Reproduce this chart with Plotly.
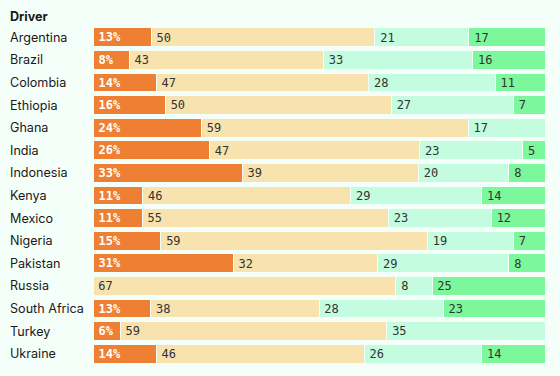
import plotly.graph_objects as go

countries = ["Argentina", "Brazil", "Colombia", "Ethiopia", "Ghana", "India", "Indonesia",
             "Kenya", "Mexico", "Nigeria", "Pakistan", "Russia", "South Africa", "Turkey", "Ukraine"]
seg1 = [13, 8, 14, 16, 24, 26, 33, 11, 11, 15, 31, 0, 13, 6, 14]
seg2 = [50, 43, 47, 50, 59, 47, 39, 46, 55, 59, 32, 67, 38, 59, 46]
seg3 = [21, 33, 28, 27, 17, 23, 20, 29, 23, 19, 29, 8, 28, 35, 26]
seg4 = [17, 16, 11, 7, 0, 5, 8, 14, 12, 7, 8, 25, 23, 0, 14]

series = [seg1, seg2, seg3, seg4]
colors = ["#EE7F33", "#F8E3AF", "#C3FCDE", "#7DF79C"]
bg = "#F5FFF9"
pad = "<span style='font-size:4px'> </span>"

fig = go.Figure()
for i, (vals, col) in enumerate(zip(series, colors)):
    if i == 0:
        txt = [f"{pad}{v}%" if v else "" for v in vals]
        font = dict(family="DejaVu Sans Mono", size=12, color="white", weight="bold")
    else:
        txt = [f"{pad}{v}" if v else "" for v in vals]
        font = dict(family="DejaVu Sans Mono", size=12.5, color="#333333")
    fig.add_trace(go.Bar(
        y=countries, x=vals, orientation="h",
        marker=dict(color=col, line=dict(color=bg, width=1)),
        text=txt, texttemplate="%{text}", textposition="inside",
        insidetextanchor="start", textfont=font, textangle=0,
        insidetextfont=font, constraintext="none",
        hoverinfo="skip", showlegend=False,
    ))

for c in countries:
    fig.add_annotation(x=-0.188, xref="paper", y=c, yref="y", text=c,
                       showarrow=False, xanchor="left", yanchor="middle",
                       font=dict(family="Inter", size=12.6, color="#1a1a1a"))
fig.add_annotation(x=-0.188, xref="paper", y=1.0, yref="paper", yshift=10, text="<b>Driver</b>",
                   showarrow=False, xanchor="left", yanchor="middle",
                   font=dict(family="Inter", size=12.6, color="#1a1a1a"))

fig.update_layout(
    width=560, height=376,
    margin=dict(l=93, r=15, t=26, b=11),
    barmode="stack", barnorm="percent", bargap=0.17,
    paper_bgcolor=bg, plot_bgcolor=bg,
    uniformtext=dict(minsize=8, mode="show"),
)
fig.update_xaxes(visible=False, range=[0, 100], fixedrange=True)
fig.update_yaxes(autorange="reversed", showticklabels=False, showgrid=False,
                 zeroline=False, fixedrange=True)

fig.write_html("out.html", config={"displayModeBar": False},
               post_script="document.body.style.margin='0';document.body.style.background='" + bg + "';")
